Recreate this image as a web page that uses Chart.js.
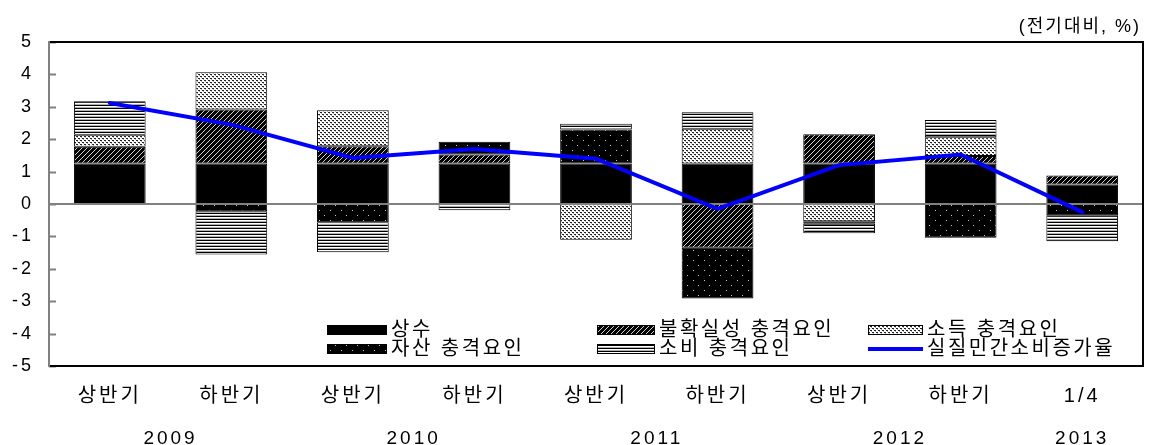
<!DOCTYPE html>
<html>
<head>
<meta charset="utf-8">
<script src="https://cdn.jsdelivr.net/npm/chart.js@4.4.1/dist/chart.umd.min.js"></script>
<style>
  html, body { margin: 0; padding: 0; background: #fff; }
</style>
</head>
<body>
<canvas id="chart" width="1149" height="445"></canvas>
<script>
// Real private consumption growth decomposition (전기대비, %)

const halves = ['상반기', '하반기', '상반기', '하반기', '상반기', '하반기', '상반기', '하반기', '1/4'];
const years = ['2009', '2010', '2011', '2012', '2013'];
const yearPos = [0.5, 2.5, 4.5, 6.5, 8];

const constant    = [1.25, 1.25, 1.25, 1.25, 1.25, 1.25, 1.25, 1.25, 0.6];
const uncertainty = [0.52, 1.67, 0.53, 0.28, null, -1.35, 0.9, 0.23, 0.28];
const income      = [0.37, 1.15, 1.11, null, -1.10, 1.07, -0.53, 0.58, null];
const asset       = [null, -0.22, -0.56, 0.39, 1.05, -1.57, -0.08, -1.04, -0.35];
const consumption = [1.03, -1.34, -0.93, -0.19, 0.18, 0.51, -0.29, 0.53, -0.80];
const growth      = [3.12, 2.45, 1.42, 1.70, 1.40, -0.15, 1.20, 1.53, -0.25];

const FONT = '"Liberation Sans", "Noto Sans CJK KR", sans-serif';

const canvas = document.getElementById('chart');
const ctx = canvas.getContext('2d');

// small repeating tiles for the black & white fills
function pattern(w, h, bg, dots) {
  const c = document.createElement('canvas');
  c.width = w; c.height = h;
  const t = c.getContext('2d');
  t.fillStyle = bg;
  t.fillRect(0, 0, w, h);
  dots.forEach(d => {
    t.fillStyle = d[4];
    t.fillRect(d[0], d[1], d[2], d[3]);
  });
  return ctx.createPattern(c, 'repeat');
}

const fillConstant = '#000';
const fillUncert = pattern(5, 5, '#000', [[4, 0, 1, 1, '#d0d0d0'], [3, 1, 1, 1, '#d0d0d0'], [2, 2, 1, 1, '#d0d0d0'], [1, 3, 1, 1, '#d0d0d0'], [0, 4, 1, 1, '#d0d0d0']]);
const fillIncome = pattern(4, 4, '#fff', [[0, 0, 2, 1, '#222'], [2, 2, 2, 1, '#222'], [1, 1, 1, 1, '#aaa'], [3, 3, 1, 1, '#aaa']]);
const fillAsset = pattern(11, 10, '#000', [[0, 0, 1, 1, '#c8c8c8'], [5, 5, 1, 1, '#c8c8c8']]);
const fillCons = pattern(4, 3, '#000', [[0, 1, 4, 1, '#fff'], [0, 2, 4, 1, '#b0b0b0']]);

function barSet(label, data, fill) {
  return {
    type: 'bar',
    label: label,
    data: data,
    backgroundColor: fill,
    borderColor: '#000',
    borderWidth: 1,
    borderSkipped: false,
    stack: 'parts',
    order: 1
  };
}

const legendSlots = [
  { x: 327, y: 325, w: 60 }, { x: 597, y: 325, w: 58 }, { x: 868, y: 325, w: 55 },
  { x: 327, y: 344, w: 60 }, { x: 597, y: 344, w: 58 }, { x: 868, y: 344, w: 55 }
];

const frame = {
  id: 'frame',
  beforeDraw(chart) {
    chart.ctx.letterSpacing = '3px';
  },
  beforeDatasetDraw(chart, args) {
    if (chart.data.datasets[args.index].type !== 'line') return;
    const c = chart.ctx, a = chart.chartArea, y = chart.scales.y;
    const zero = y.getPixelForValue(0);
    c.save();
    c.strokeStyle = '#808080';
    c.lineWidth = 2;
    c.beginPath();
    c.moveTo(a.left, zero);
    c.lineTo(a.right, zero);
    c.stroke();
    c.restore();
  },
  afterDraw(chart) {
    const c = chart.ctx, a = chart.chartArea, y = chart.scales.y;
    c.save();
    // inner tick marks on the value axis
    c.strokeStyle = '#808080';
    c.lineWidth = 2;
    y.ticks.forEach(t => {
      const p = Math.round(y.getPixelForValue(t.value)) + 0.5;
      c.beginPath();
      c.moveTo(a.left, p);
      c.lineTo(a.left + 7, p);
      c.stroke();
    });
    // top / right / bottom frame
    c.strokeStyle = '#000';
    c.lineWidth = 2;
    c.beginPath();
    c.moveTo(a.left + 1, a.top);
    c.lineTo(a.right, a.top);
    c.lineTo(a.right, a.bottom);
    c.lineTo(a.left + 1, a.bottom);
    c.stroke();
    c.strokeStyle = '#808080';
    c.beginPath();
    c.moveTo(a.left, a.top);
    c.lineTo(a.left, a.bottom + 1);
    c.stroke();

    // unit note
    c.fillStyle = '#000';
    c.letterSpacing = '2px';
    c.font = '18px ' + FONT;
    c.textAlign = 'right';
    c.textBaseline = 'middle';
    c.fillText('(전기대비, %)', 1141, 27);

    // legend
    c.letterSpacing = '2.5px';
    c.font = '20px ' + FONT;
    c.textAlign = 'left';
    chart.data.datasets.forEach((ds, k) => {
      const s = legendSlots[k];
      if (ds.type === 'line') {
        c.strokeStyle = ds.borderColor;
        c.lineWidth = 4;
        c.beginPath();
        c.moveTo(s.x, s.y + 5);
        c.lineTo(s.x + s.w, s.y + 5);
        c.stroke();
      } else {
        c.fillStyle = ds.backgroundColor;
        c.fillRect(s.x, s.y, s.w, 10);
        c.strokeStyle = '#000';
        c.lineWidth = 1;
        c.strokeRect(s.x + 0.5, s.y + 0.5, s.w - 1, 9);
      }
      c.fillStyle = '#000';
      c.fillText(ds.label, s.x + s.w + 4, s.y + 5);
    });
    c.restore();
  }
};

new Chart(ctx, {
  data: {
    labels: halves,
    datasets: [
      barSet('상수', constant, fillConstant),
      barSet('불확실성 충격요인', uncertainty, fillUncert),
      barSet('소득 충격요인', income, fillIncome),
      barSet('자산 충격요인', asset, fillAsset),
      barSet('소비 충격요인', consumption, fillCons),
      {
        type: 'line',
        label: '실질민간소비증가율',
        data: growth,
        borderColor: '#0000ff',
        borderWidth: 4,
        pointRadius: 0,
        tension: 0,
        borderCapStyle: 'round',
        stack: 'line',
        order: 0
      }
    ]
  },
  options: {
    responsive: false,
    animation: false,
    devicePixelRatio: 1,
    categoryPercentage: 0.59,
    barPercentage: 1,
    layout: { padding: { left: 0, right: 6, top: 42, bottom: 0 } },
    plugins: {
      legend: { display: false },
      tooltip: { enabled: false }
    },
    scales: {
      x: {
        type: 'category',
        stacked: true,
        position: 'bottom',
        grid: { display: false },
        border: { display: false },
        ticks: { color: '#000', font: { family: FONT, size: 20 }, padding: 10, maxRotation: 0, autoSkip: false },
        afterFit(s) { s.height = 45; }
      },
      year: {
        type: 'linear',
        position: 'bottom',
        weight: 1,
        min: -0.5,
        max: 8.5,
        grid: { display: false },
        border: { display: false },
        afterBuildTicks(s) { s.ticks = yearPos.map(v => ({ value: v })); },
        ticks: {
          color: '#000',
          font: { family: FONT, size: 19 },
          padding: 8,
          maxRotation: 0,
          autoSkip: false,
          callback: (v, i) => years[i]
        },
        afterFit(s) { s.height = 34; }
      },
      y: {
        stacked: true,
        min: -5,
        max: 5,
        grid: { display: false },
        border: { display: true, color: '#808080', width: 2 },
        ticks: { stepSize: 1, color: '#000', font: { family: FONT, size: 18 }, padding: 7 },
        afterFit(s) { s.width = 49; }
      }
    }
  },
  plugins: [frame]
});
</script>
</body>
</html>
